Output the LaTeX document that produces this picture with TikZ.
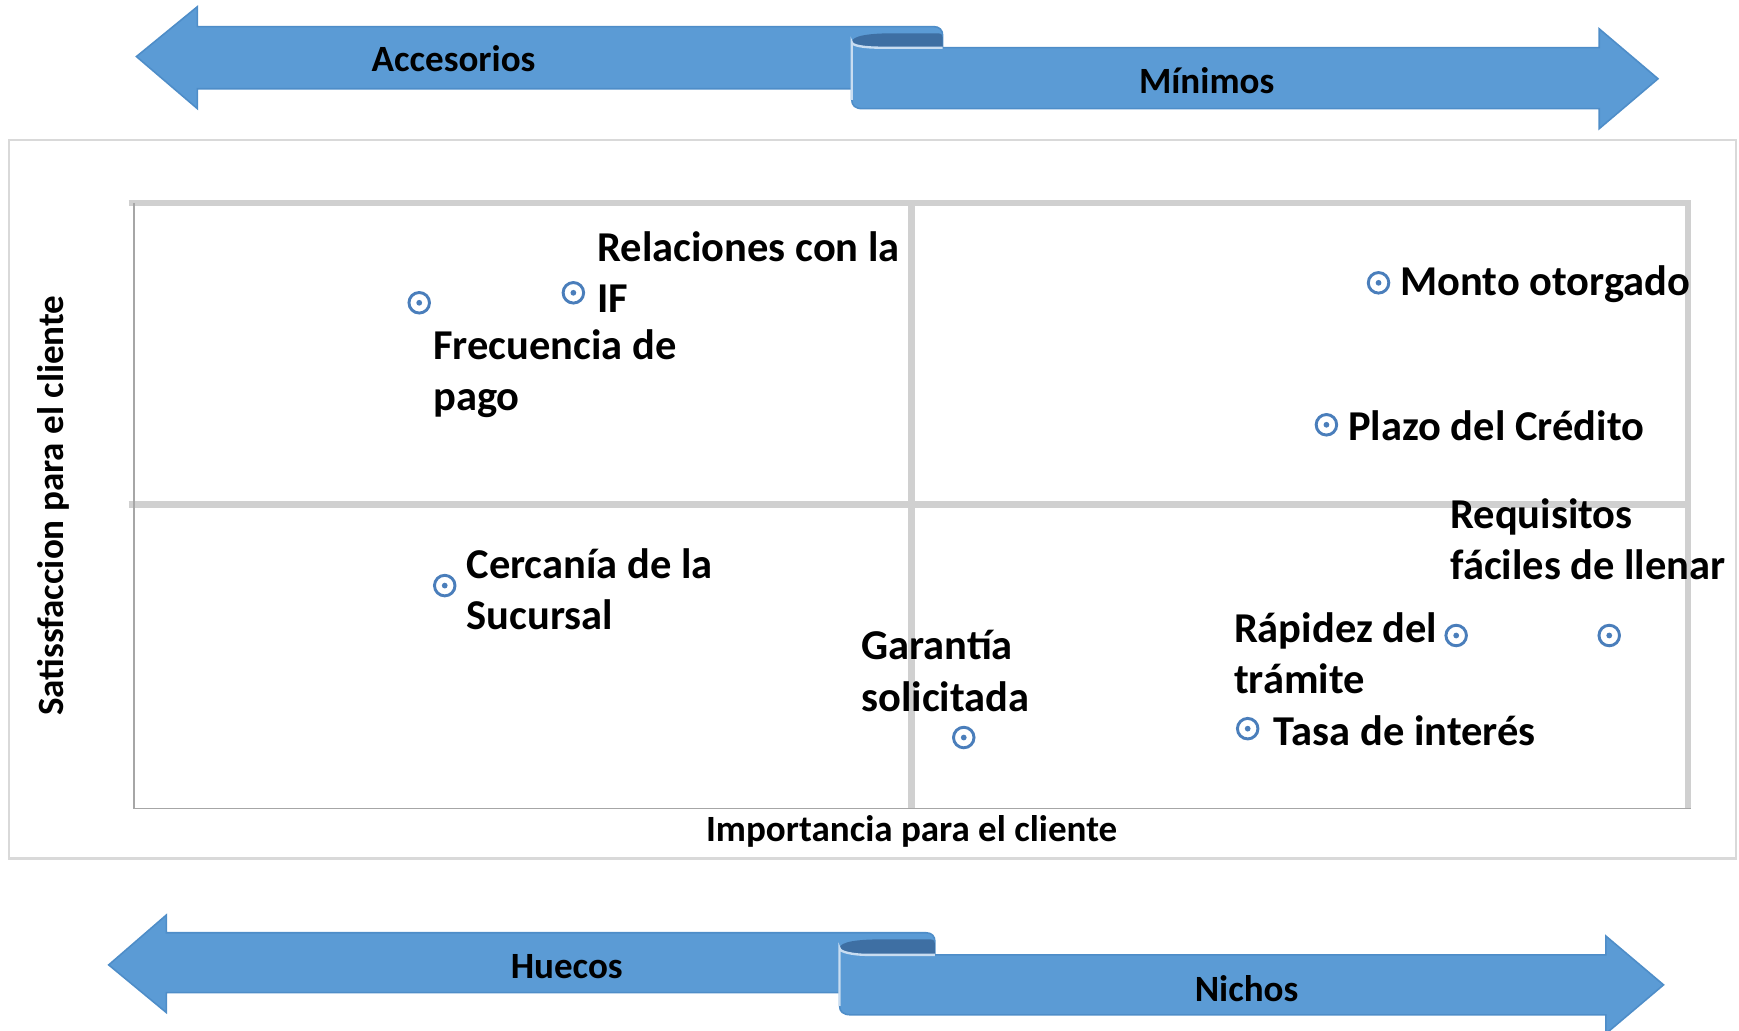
\documentclass[tikz,border=0pt]{standalone}
\usepackage{fontspec}
\setmainfont{Carlito}
\definecolor{band}{HTML}{5B9BD5}
\definecolor{bandedge}{HTML}{4E8DC8}
\definecolor{curlc}{HTML}{3E6FA3}
\definecolor{lipc}{HTML}{C9DDF1}
\definecolor{markc}{HTML}{4A7EBB}
\definecolor{gridc}{HTML}{D0D0D0}
\definecolor{framec}{HTML}{D9D9D9}
\definecolor{axisc}{HTML}{A6A6A6}
\begin{document}
\begin{tikzpicture}[x=0.01cm,y=-0.01cm,
  ribbon/.style={fill=band, draw=bandedge, line width=0.4pt},
  curlfill/.style={fill=curlc, draw=none},
  lipline/.style={draw=lipc, line width=0.6pt},
  mk/.style={circle, draw=markc, line width=0.75pt, minimum size=0.185cm, inner sep=0pt,
    path picture={\fill[markc] (path picture bounding box.center) circle (0.026cm);}},
  lbl/.style={font=\bfseries\fontsize{10.9}{13.1}\selectfont, align=left, anchor=west, inner sep=0pt},
  bandlbl/.style={font=\bfseries\fontsize{9.5}{11}\selectfont, inner sep=0pt},
  axlbl/.style={font=\bfseries\fontsize{9.5}{11}\selectfont, inner sep=0pt},
  gridln/.style={draw=gridc, line width=1.7pt},
  axisln/.style={draw=axisc, line width=0.5pt},
]
\useasboundingbox (0,0) rectangle (1568,929.6);

% ---------- top ribbons ----------
\path[ribbon] (123,51) -- (178,6) -- (178,24) -- (842,24)
  .. controls (847,24) and (850,27) .. (850,32) -- (850,80) -- (178,80) -- (178,98) -- cycle;
\path[curlfill] (768,38) .. controls (768,32) and (785,30) .. (805,30) -- (846,30)
  .. controls (849,30) and (850,32) .. (850,34) -- (850,43) -- (795,43)
  .. controls (778,43) and (768,41) .. (768,38) -- cycle;
\path[ribbon] (768,38) .. controls (768,41) and (778,43) .. (795,43) -- (1442,43) -- (1442,26)
  -- (1495,71) -- (1442,116) -- (1442,98) -- (778,98)
  .. controls (771,98) and (768,95) .. (768,90) -- cycle;
\draw[lipline] (768,90) -- (768,38) .. controls (768,41) and (778,43) .. (795,43) -- (850,43);
\node[bandlbl] (acc) at (409,53) {Accesorios};
\node[bandlbl] (min) at (1088,73) {Mínimos};

% ---------- bottom ribbons ----------
\path[ribbon] (98,870) -- (150,825) -- (150,841) -- (835,841)
  .. controls (840,841) and (843,844) .. (843,849) -- (843,895) -- (150,895) -- (150,913) -- cycle;
\path[curlfill] (757,855) .. controls (757,849) and (774,847) .. (794,847) -- (839,847)
  .. controls (842,847) and (843,849) .. (843,851) -- (843,861) -- (784,861)
  .. controls (767,861) and (757,859) .. (757,855) -- cycle;
\path[ribbon] (757,855) .. controls (757,858) and (767,861) .. (784,861) -- (1448,861) -- (1448,844)
  -- (1500,888) -- (1448,932) -- (1448,915) -- (767,915)
  .. controls (760,915) and (757,912) .. (757,907) -- cycle;
\draw[lipline] (757,907) -- (757,855) .. controls (757,858) and (767,861) .. (784,861) -- (843,861);
\node[bandlbl] (hue) at (511,872) {Huecos};
\node[bandlbl] (nic) at (1124,891) {Nichos};

% ---------- chart frame ----------
\draw[draw=framec, line width=0.6pt] (8,126) rectangle (1565,774);
\draw[gridln] (116,183) -- (1525,183);
\draw[gridln] (1522,183) -- (1522,729);
\draw[gridln] (116,455) -- (1522,455);
\draw[gridln] (822,183) -- (822,729);
\draw[axisln] (121,183) -- (121,729) -- (1525,729);

\node[axlbl] (xt) at (822,750) {Importancia para el cliente};
\node[axlbl, rotate=90] (yt) at (48,456) {Satissfaccion para el cliente};

% ---------- points ----------
\node[mk] (p1) at (378,273) {};
\node[mk] (p2) at (517,264) {};
\node[mk] (p3) at (1243,255) {};
\node[mk] (p4) at (1196,383) {};
\node[mk] (p5) at (401,528) {};
\node[mk] (p6) at (869,665) {};
\node[mk] (p7) at (1313,573) {};
\node[mk] (p8) at (1451,573) {};
\node[mk] (p9) at (1125,657) {};

% ---------- labels ----------
\node[lbl] (l1) at (390,337) {Frecuencia de\\pago};
\node[lbl] (l2) at (538,245) {Relaciones con la\\IF};
\node[lbl] (l3) at (1262,256) {Monto otorgado};
\node[lbl] (l4) at (1215,384) {Plazo del Crédito};
\node[lbl] (l5) at (420,531) {Cercanía de la\\Sucursal};
\node[lbl] (l6) at (776,605) {Garantía\\solicitada};
\node[lbl] (l7) at (1112,589) {Rápidez del\\trámite};
\node[lbl] (l8) at (1307,486) {Requisitos\\fáciles de llenar};
\node[lbl] (l9) at (1148,659) {Tasa de interés};
\end{tikzpicture}
\end{document}
